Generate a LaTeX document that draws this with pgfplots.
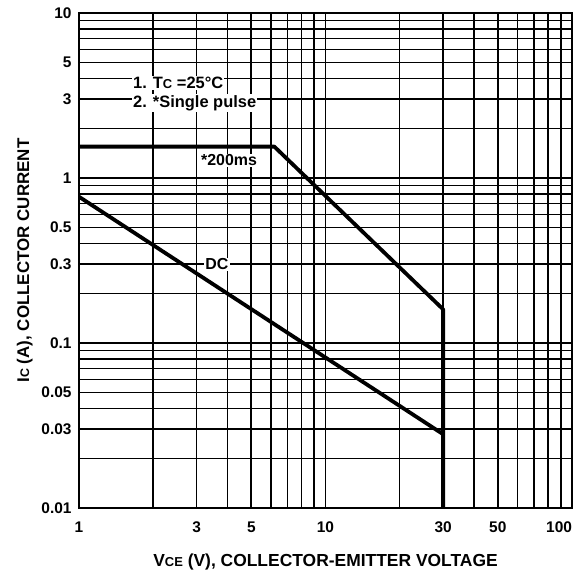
\documentclass[border=0pt]{standalone}
\usepackage{fontspec}
\setmainfont{Liberation Sans}
\usepackage{pgfplots}
\pgfplotsset{compat=1.18}
\begin{document}
\begin{tikzpicture}
\begin{axis}[
  xmode=log, ymode=log,
  scale only axis,
  width=493bp, height=495bp,
  xmin=1, xmax=100, ymin=0.01, ymax=10,
  xtick={1,2,3,4,5,6,7,8,9,10,20,30,40,50,60,70,80,90,100},
  xticklabels={1,,3,,5,,,,,10,,30,,50,,,,,\makebox[0pt][r]{100}},
  ytick={0.01,0.02,0.03,0.04,0.05,0.06,0.07,0.08,0.09,0.1,0.2,0.3,0.4,0.5,0.6,0.7,0.8,0.9,1,2,3,4,5,6,7,8,9,10},
  yticklabels={0.01,,0.03,,0.05,,,,,0.1,,0.3,,0.5,,,,,1,,3,,5,,,,,10},
  grid=major,
  major grid style={black, line width=1.6bp},
  axis line style={black, line width=2bp},
  major tick length=0pt,
  tick label style={font=\bfseries\fontsize{15.5}{15.5}\selectfont},
  xticklabel style={yshift=-10bp},
  yticklabel style={xshift=-4bp},
  xlabel={V{\fontsize{13}{13}\selectfont CE} (V), COLLECTOR-EMITTER VOLTAGE},
  ylabel={I{\fontsize{12.5}{12.5}\selectfont C} (A), COLLECTOR CURRENT},
  label style={font=\bfseries\fontsize{17}{17}\selectfont},
  xlabel style={at={(axis description cs:0.5,-0.109)}, anchor=center, font=\bfseries\fontsize{17.5}{17.5}\selectfont},
  ylabel style={at={(axis description cs:-0.11,0.5)}, anchor=center},
]
\addplot[black, line width=3.8bp, line join=round] coordinates {
  (1,1.55) (6.2,1.55) (30,0.16) (30,0.01)
};
\addplot[black, line width=3.8bp] coordinates {
  (1,0.77) (30,0.028)
};
\node[fill=white, inner sep=1bp, anchor=west,
  font=\bfseries\fontsize{16.5}{16.5}\selectfont] at (axis cs:1.64,3.77)
  {1. T{\fontsize{13}{13}\selectfont C} =25°C};
\node[fill=white, inner sep=1bp, anchor=west,
  font=\bfseries\fontsize{16.5}{16.5}\selectfont] at (axis cs:1.64,2.85)
  {2. *Single pulse};
\node[fill=white, inner sep=1bp, font=\bfseries\fontsize{16}{16}\selectfont]
  at (axis cs:4.06,1.28) {*200ms};
\node[fill=white, inner sep=1bp, font=\bfseries\fontsize{16}{16}\selectfont]
  at (axis cs:3.63,0.30) {DC};
\coordinate (bl) at (rel axis cs:0,0);
\coordinate (tr) at (rel axis cs:1,1);
\end{axis}
\pgfresetboundingbox
\path ([xshift=-79bp,yshift=-66bp]bl) rectangle ([xshift=7bp,yshift=13bp]tr);
\end{tikzpicture}
\end{document}
